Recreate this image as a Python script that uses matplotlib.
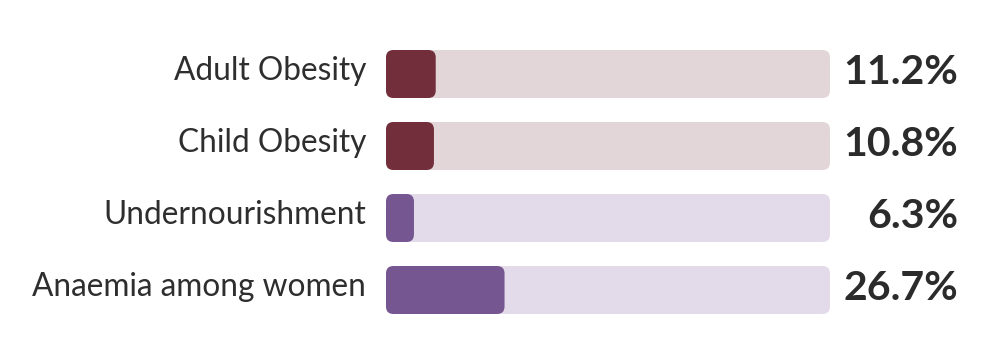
import matplotlib
matplotlib.use("Agg")
import matplotlib.pyplot as plt
from matplotlib.patches import FancyBboxPatch

categories = ["Adult Obesity", "Child Obesity", "Undernourishment", "Anaemia among women"]
values = [11.2, 10.8, 6.3, 26.7]
value_labels = ["11.2%", "10.8%", "6.3%", "26.7%"]
fill_colors = ["#722F3B", "#722F3B", "#765691", "#765691"]
track_colors = ["#E2D6D9", "#E2D6D9", "#E3DBE9", "#E3DBE9"]
max_value = 100

W, H, DPI = 1000, 360, 100
fig = plt.figure(figsize=(W / DPI, H / DPI), dpi=DPI)
left_px, right_px = 386, 830
ax = fig.add_axes([left_px / W, 0, (right_px - left_px) / W, 1])

row_px = 72.0
first_center_px = 74.0
ax.set_xlim(0, max_value)
top = -first_center_px / row_px
bottom = (H - first_center_px) / row_px
ax.set_ylim(bottom, top)
ax.axis("off")

px_per_x = (right_px - left_px) / max_value
px_per_y = row_px
radius_px = 7.5
r_x = radius_px / px_per_x
aspect = px_per_x / px_per_y
bar_h = 48 / row_px

def rbar(x0, w, yc, color):
    p = FancyBboxPatch((x0, yc - bar_h / 2), w, bar_h,
                       boxstyle=f"round,pad=0,rounding_size={r_x}",
                       mutation_aspect=aspect, linewidth=0,
                       facecolor=color, edgecolor="none")
    ax.add_patch(p)

for i, (cat, v, lab) in enumerate(zip(categories, values, value_labels)):
    rbar(0, max_value, i, track_colors[i])
    rbar(0, v, i, fill_colors[i])
    ax.annotate(cat, xy=(0, i), xycoords="data",
                xytext=(-20 * 0.72, -6 * 0.72), textcoords="offset points",
                ha="right", va="baseline", fontsize=22.8,
                family="Lato", color="#2e2e2e")
    ax.annotate(lab, xy=(1, i), xycoords=("axes fraction", "data"),
                xytext=(128 * 0.72, -10 * 0.72), textcoords="offset points",
                ha="right", va="baseline", fontsize=29.5,
                family="Lato", fontweight="bold", color="#2b2b2b")

fig.savefig("out.png", dpi=DPI)
